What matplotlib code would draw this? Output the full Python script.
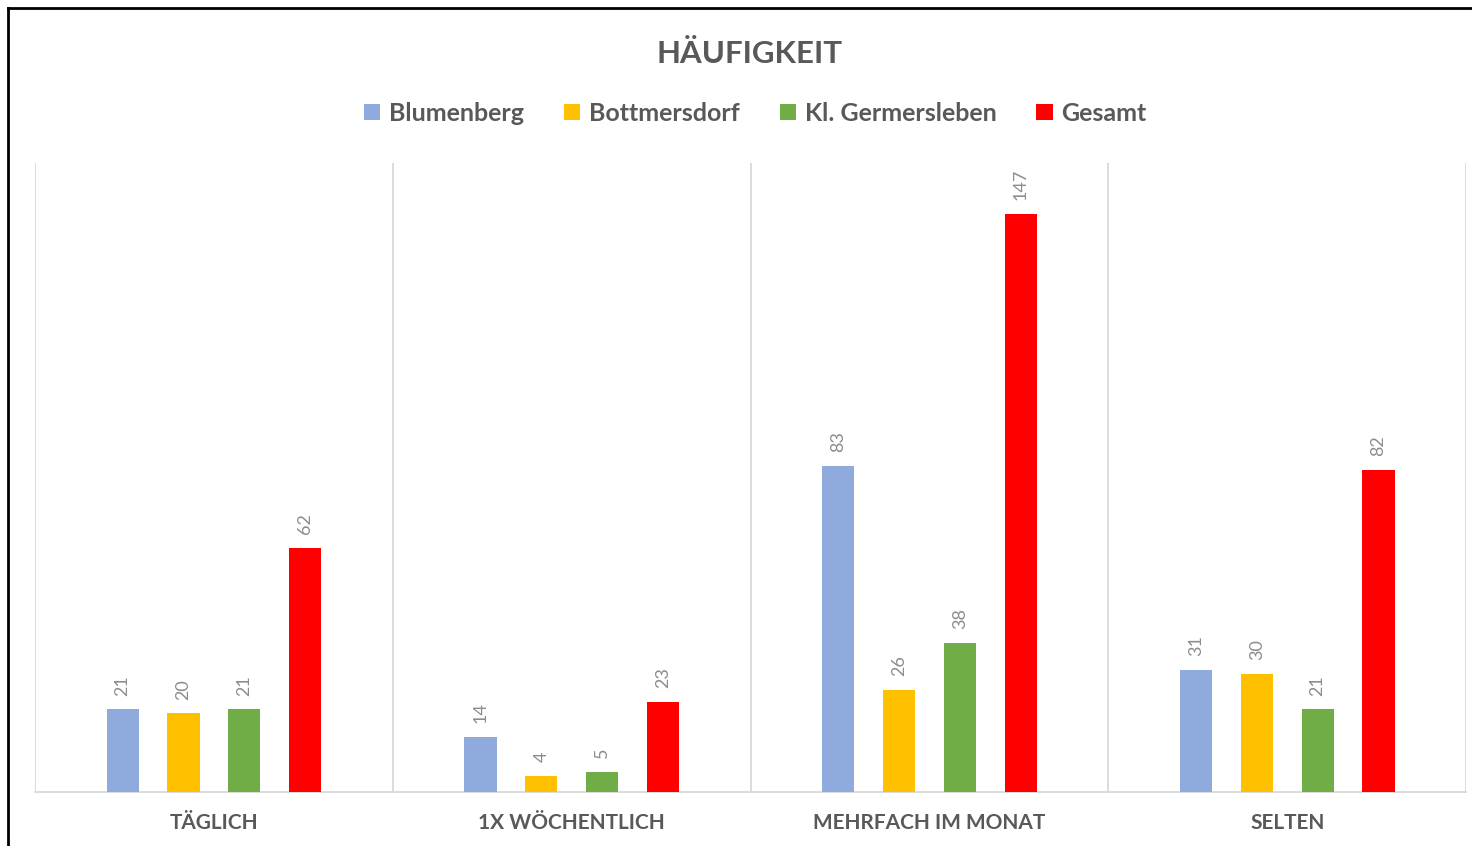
import matplotlib
matplotlib.use("Agg")
import matplotlib.pyplot as plt
from matplotlib.lines import Line2D

plt.rcParams['font.family'] = ['Lato', 'DejaVu Sans']

categories = ['TÄGLICH', '1X WÖCHENTLICH', 'MEHRFACH IM MONAT', 'SELTEN']
series_names = ['Blumenberg', 'Bottmersdorf', 'Kl. Germersleben', 'Gesamt']
blumenberg = [21, 14, 83, 31]
bottmersdorf = [20, 4, 26, 30]
germersleben = [21, 5, 38, 21]
gesamt = [62, 23, 147, 82]
colors = ['#8FAADC', '#FFC000', '#70AD47', '#FF0000']

text_gray = '#595959'
label_gray = '#8C8C8C'
grid_gray = '#D9D9D9'

fig = plt.figure(figsize=(14.72, 8.46), dpi=100)
ax = fig.add_axes([0.0238, 0.0638, 0.9722, 0.7435])

all_series = [blumenberg, bottmersdorf, germersleben, gesamt]
width = 0.09
step = 0.17
x = list(range(len(categories)))
for i, (name, vals) in enumerate(zip(series_names, all_series)):
    pos = [c + (i - 1.5) * step for c in x]
    bars = ax.bar(pos, vals, width=width, color=colors[i], label=name, zorder=3)
    for b, v in zip(bars, vals):
        ax.annotate(str(v), (b.get_x() + b.get_width() / 2, b.get_height()),
                    xytext=(0, 10), textcoords='offset points', rotation=90,
                    ha='center', va='bottom', fontsize=13, color=label_gray)

ax.set_xlim(-0.5, len(categories) - 0.5)
ax.set_ylim(0, 160)
for sep in [c - 0.5 for c in range(len(categories) + 1)]:
    ax.axvline(sep, color=grid_gray, lw=1.3, zorder=1)

for s in ['top', 'right', 'left']:
    ax.spines[s].set_visible(False)
ax.spines['bottom'].set_color(grid_gray)
ax.spines['bottom'].set_linewidth(1.3)
ax.set_yticks([])
ax.set_xticks(x)
ax.set_xticklabels(categories, fontsize=15, fontweight='bold', color=text_gray)
ax.tick_params(axis='x', length=0, pad=15)

fig.text(0.509, 0.9255, 'HÄUFIGKEIT', ha='center', va='baseline', fontsize=22.5,
         fontweight='bold', color=text_gray)

leg = fig.legend(loc='center', bbox_to_anchor=(0.513, 0.866), ncol=4, frameon=False,
                 prop={'size': 18, 'weight': 'bold'}, handlelength=0.65,
                 handleheight=0.65, handletextpad=0.35, columnspacing=1.6)
for t in leg.get_texts():
    t.set_color(text_gray)

# black frame on the left and top edges, as in the screenshot
fig.add_artist(Line2D([0.0055, 0.0055], [0.0, 0.991], transform=fig.transFigure,
                      color='black', lw=2))
fig.add_artist(Line2D([0.0055, 1.0], [0.991, 0.991], transform=fig.transFigure,
                      color='black', lw=2))

fig.savefig('out.png', dpi=100, facecolor='white')
